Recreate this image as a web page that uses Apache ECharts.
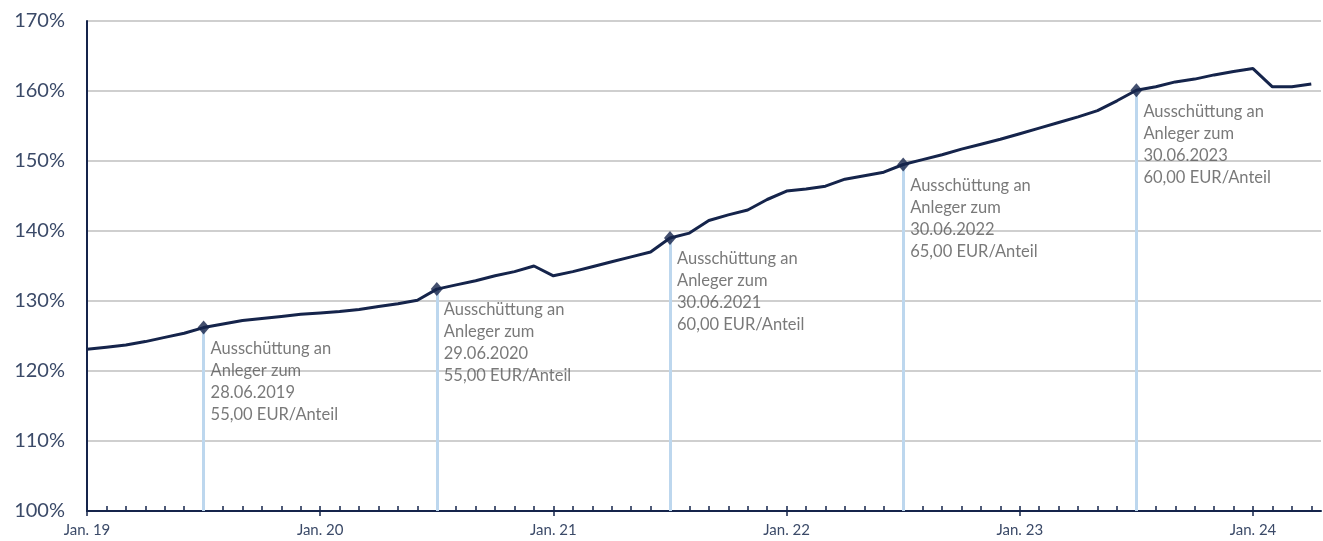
<!DOCTYPE html>
<html lang="de">
<head>
<meta charset="UTF-8">
<title>Wertentwicklung</title>
<script src="https://cdn.jsdelivr.net/npm/echarts@6.0.0/dist/echarts.min.js"></script>
<style>
  html, body { margin: 0; padding: 0; background: #fff; }
  #chart { width: 1323px; height: 541px; }
</style>
</head>
<body>
<div id="chart"></div>
<script>
// months since Jan. 19 (0 = Jan. 19)
const months = [];
for (let i = 0; i <= 63; i++) months.push(i);

// Wertentwicklung in %
const values = [
  123.1, 123.4, 123.7, 124.2, 124.8, 125.4, 126.2, 126.7, 127.2, 127.5, 127.8, 128.1,
  128.3, 128.5, 128.8, 129.2, 129.6, 130.1, 131.7, 132.3, 132.9, 133.6, 134.2, 135.0,
  133.6, 134.2, 134.9, 135.6, 136.3, 137.0, 139.0, 139.7, 141.5, 142.3, 143.0, 144.5,
  145.7, 146.0, 146.4, 147.4, 147.9, 148.4, 149.5, 150.2, 150.9, 151.7, 152.4, 153.1,
  153.9, 154.7, 155.5, 156.3, 157.2, 158.6, 160.1, 160.6, 161.3, 161.7, 162.3, 162.8,
  163.2, 160.6, 160.6, 161.0
];

// Ausschüttungen
const distMonths = [6, 18, 30, 42, 54];
const distDates = ['28.06.2019', '29.06.2020', '30.06.2021', '30.06.2022', '30.06.2023'];
const distAmounts = ['55,00', '55,00', '60,00', '65,00', '60,00'];

const yearTicks = [0, 12, 24, 36, 48, 60];
const yearLabels = ['Jan. 19', 'Jan. 20', 'Jan. 21', 'Jan. 22', 'Jan. 23', 'Jan. 24'];

const navy = '#15244b';
const axisText = '#3b4a68';

const lineData = months.map((m, i) => [m, values[i]]);
const distData = distMonths.map((m, i) => ({
  value: [m, values[m]],
  text: 'Ausschüttung an\nAnleger zum\n' + distDates[i] + '\n' + distAmounts[i] + ' EUR/Anteil'
}));

const chart = echarts.init(document.getElementById('chart'));
chart.setOption({
  animation: false,
  grid: { left: 87, right: 2, top: 21, bottom: 30, containLabel: false },
  xAxis: [
    {
      type: 'value', min: 0, max: 63.5,
      axisLine: { show: true, lineStyle: { color: navy, width: 2 } },
      axisTick: { show: true, length: 5, customValues: yearTicks, lineStyle: { color: navy, width: 1.5 } },
      axisLabel: {
        customValues: yearTicks,
        formatter: v => yearLabels[yearTicks.indexOf(v)] || '',
        color: axisText, fontFamily: 'Lato', fontSize: 15, margin: 12
      },
      splitLine: { show: false }
    },
    {
      type: 'value', min: 0, max: 63.5, position: 'bottom',
      axisLine: { show: false },
      axisTick: { show: true, inside: true, length: 5, customValues: months, lineStyle: { color: navy, width: 1.5 } },
      axisLabel: { show: false },
      splitLine: { show: false }
    }
  ],
  yAxis: {
    type: 'value', min: 100, max: 170, interval: 10,
    axisLine: { show: true, lineStyle: { color: navy, width: 2 } },
    axisTick: { show: false },
    axisLabel: { formatter: '{value}%', color: axisText, fontFamily: 'Lato', fontSize: 20, margin: 22 },
    splitLine: { lineStyle: { color: '#bfbfbf', width: 1.5 } }
  },
  series: [
    {
      // vertical guide lines for the distributions
      type: 'line', data: [], z: 1,
      markLine: {
        silent: true, symbol: 'none', label: { show: false }, z: 1,
        lineStyle: { color: '#bdd7ee', width: 3, type: 'solid' },
        data: distMonths.map(m => [{ coord: [m, values[m]] }, { coord: [m, 100] }])
      }
    },
    {
      type: 'line', data: lineData, showSymbol: false, z: 3,
      lineStyle: { color: navy, width: 3 }
    },
    {
      type: 'scatter', data: distData, symbol: 'diamond', symbolSize: [12, 14], z: 5,
      itemStyle: { color: navy },
      label: {
        show: true, position: [13, 17], align: 'left', verticalAlign: 'top',
        formatter: p => p.data.text,
        color: '#585858', fontFamily: 'Lato', fontSize: 16.5, lineHeight: 22
      }
    }
  ]
});
</script>
</body>
</html>
